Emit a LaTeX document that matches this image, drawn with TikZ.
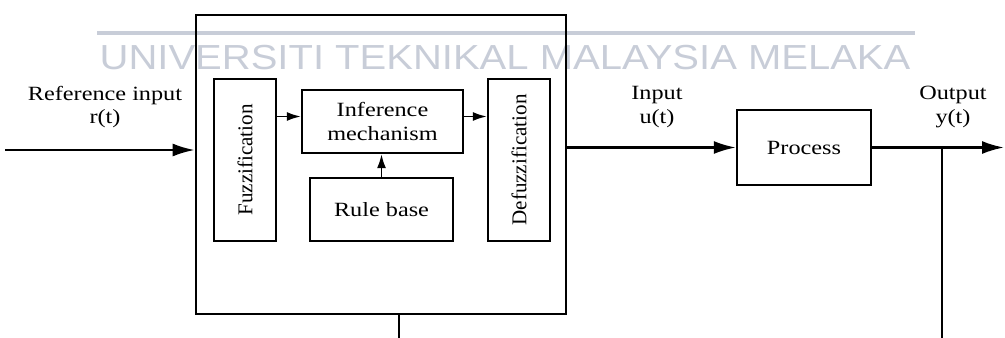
\documentclass[tikz,border=0pt]{standalone}
\usepackage{fontspec}
\setmainfont{Liberation Serif}[FakeStretch=1.2]
\newfontfamily\upfont{Liberation Serif}
\newfontfamily\markfont{Liberation Sans}[FakeStretch=1.15]
\usetikzlibrary{arrows.meta,positioning,calc}
\definecolor{wm}{HTML}{C8CDD8}
\tikzset{
    ctrl-box/.style={
        draw=black,
        line width=1.6pt,
        minimum width=7.4cm,
        minimum height=5.98cm
    },
    fz-box/.style={
        draw=black,
        line width=1.4pt,
        minimum width=1.24cm,
        minimum height=3.24cm,
        inner sep=0pt,
        font=\fontsize{12}{14}\upfont
    },
    blk/.style={
        draw=black,
        line width=1.4pt,
        align=center,
        inner sep=0pt
    },
    lbl/.style={
        align=center,
        inner sep=0pt
    },
    sig/.style={
        draw,
        line width=1.3pt,
        -{Latex[length=4.4mm,width=2.6mm]}
    },
    inner-sig/.style={
        draw,
        line width=0.9pt,
        -{Latex[length=2.8mm,width=1.8mm]}
    },
    wire/.style={
        draw,
        line width=1.3pt
    },
}

\begin{document}
\begin{tikzpicture}[x=0.02cm,y=-0.02cm,font=\fontsize{11.5}{13.5}\selectfont]
    \useasboundingbox (0,0) rectangle (1005,338);

    % watermark
    \draw[wm, line width=1.8pt] (97,33) -- (915,33);
    \node[anchor=base, inner sep=0pt, text=wm, font=\fontsize{19.8}{22}\markfont] (mark) at (505,70) {UNIVERSITI TEKNIKAL MALAYSIA MELAKA};

    % controller
    \node[ctrl-box] (ctrl) at (381,164.5) {};
    \node[fz-box] (fuzz) at (245,160) {\rotatebox{90}{Fuzzification}};
    \node[fz-box] (defuzz) at (519,160) {\rotatebox{90}{Defuzzification}};
    \node[blk, minimum width=3.22cm, minimum height=1.26cm] (inf) at (382.5,121.5) {Inference\\mechanism};
    \node[blk, minimum width=2.86cm, minimum height=1.26cm] (rule) at (381.5,209.5) {Rule base};
    \node[blk, minimum width=2.68cm, minimum height=1.5cm] (proc) at (804,147.5) {Process};

    % labels
    \node[lbl] (rlbl) at (105,107) {Reference input\\r(t)};
    \node[lbl] (ulbl) at (657,107) {Input\\u(t)};
    \node[lbl] (ylbl) at (953,107) {Output\\y(t)};

    \coordinate (ref) at (5,150);
    \coordinate (yout) at (1004,147.5);
    \coordinate (fb) at (942,147.5);
    \coordinate (fbend) at (942,338);
    \coordinate (cbend) at (399,338);
    \coordinate (inA) at ($(inf.west)+(0,-5)$);
    \coordinate (inB) at ($(inf.east)+(0,-5)$);

    \draw[sig] (ref) -- (ref -| ctrl.west);
    \draw[sig] (proc.west -| ctrl.east) -- (proc.west);
    \draw[sig] (proc.east) -- (yout);
    \draw[wire] (fb) -- (fbend);
    \draw[wire] (ctrl.south -| cbend) -- (cbend);

    \draw[inner-sig] (inA -| fuzz.east) -- (inA);
    \draw[inner-sig] (inB) -- (inB -| defuzz.west);
    \draw[inner-sig] (rule.north) -- (rule.north |- inf.south);
\end{tikzpicture}
\end{document}
